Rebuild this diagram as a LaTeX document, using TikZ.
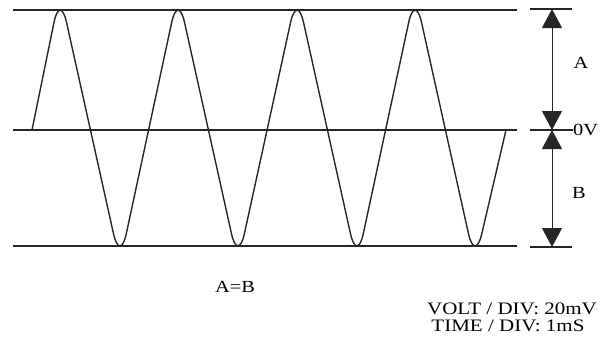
\documentclass[tikz,border=0pt]{standalone}
\usepackage{fontspec}
\setmainfont{Liberation Serif}
\usetikzlibrary{arrows.meta,positioning}
\newcommand{\wide}[1]{\scalebox{1.2}[1]{#1}}

\begin{document}
\begin{tikzpicture}[x=1pt,y=-1pt,
    level/.style={line width=1.4pt,black!85},
    trace/.style={line width=1.4pt,black!85,rounded corners=30pt},
    dim/.style={line width=1pt,black!85,
                {Triangle[length=19pt,width=20pt]}-{Triangle[length=19pt,width=20pt]}},
    lbl/.style={font=\fontsize{17}{17}\selectfont,inner sep=0pt},
    note/.style={font=\fontsize{17.5}{13}\selectfont,inner sep=0pt,anchor=base}]
  \useasboundingbox (0,0) rectangle (608,346);
  % screen levels
  \coordinate (topL) at (13,10);  \coordinate (topR) at (517,10);
  \coordinate (midL) at (13,130); \coordinate (midR) at (517,130);
  \coordinate (botL) at (13,246); \coordinate (botR) at (517,246);
  \draw[level] (topL) -- (topR);
  \draw[level] (midL) -- (midR);
  \draw[level] (botL) -- (botR);
  % waveform
  \draw[trace] (32,130) -- (60,-7) -- (120,263) -- (178,-7) -- (238,263)
    -- (297,-7) -- (357,263) -- (415,-7) -- (475,263) -- (506,130);
  % dimension marks
  \coordinate (dimTop) at (552,9);
  \coordinate (dimMid) at (552,130);
  \coordinate (dimBot) at (552,247);
  \node[lbl,anchor=west] (zeroV) at (573,130) {\wide{0V}};
  \draw[level] (530,9) -- (572,9);
  \draw[level] (530,130) -- (zeroV.west);
  \draw[level] (530,247) -- (572,247);
  \draw[dim] (dimMid) -- (dimTop);
  \draw[dim] (dimMid) -- (dimBot);
  \node[lbl] (labA) at (581,63) {\wide{A}};
  \node[lbl] (labB) at (579,193) {\wide{B}};
  % notes
  \node[lbl] (eq) at (235,287) {\wide{A=B}};
  \node[note] (volt) at (512,314) {\wide{VOLT / DIV: 20mV}};
  \node[note] (time) at (508,331) {\wide{TIME / DIV: 1mS}};
\end{tikzpicture}
\end{document}
